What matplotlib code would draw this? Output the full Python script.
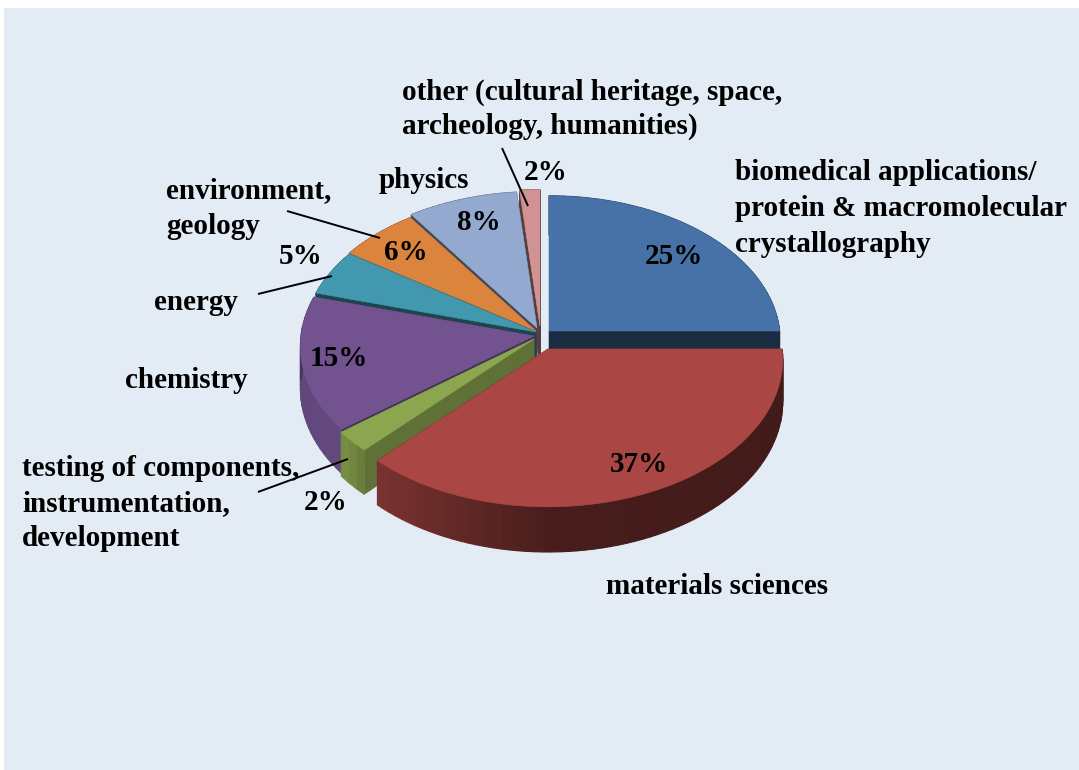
import numpy as np
from matplotlib import pyplot as plt
from matplotlib.patches import Rectangle

names = ["biomedical", "materials", "testing", "chemistry", "energy", "environment", "physics", "other"]
values = [25.1, 37.3, 2.4, 14.9, 5.0, 6.0, 8.2, 1.5]
top_colors = ["#4672A7", "#AA4643", "#8CA64F", "#725390", "#4198AF", "#DB843D", "#93A9CF", "#D09293"]
pct_xy = [(674, 257), (639, 464), (326, 503), (339, 358), (301, 256), (406, 252), (479, 223), (546, 173)]

# label lines: text, left x, centre y (pixels)
label_lines = [
    ("other (cultural heritage, space,", 402, 92),
    ("archeology, humanities)", 402, 126),
    ("biomedical applications/", 735, 172),
    ("protein & macromolecular", 735, 208),
    ("crystallography", 735, 244),
    ("physics", 379, 180),
    ("environment,", 166, 191),
    ("geology", 166, 227),
    ("energy", 154, 303),
    ("chemistry", 125, 380),
    ("testing of components,", 22, 468),
    ("instrumentation,", 22, 504),
    ("development", 22, 539),
    ("materials sciences", 606, 587),
]
leaders = [
    ((502, 148), (528, 206)),
    ((287, 211), (380, 238)),
    ((258, 294), (332, 276)),
    ((258, 492), (348, 459)),
]

# where each slice's tip sits, slice pulled apart like in the original
apex = [(549, 331), (548, 349), (534, 339), (534, 336), (536, 332), (536, 331), (537, 328), (540, 326)]
size = [0.99, 1.005, 1, 1, 1, 1, 1, 1]
cut_shade = [0.39, 0.45, 0.68, 0.62, 0.45, 0.5, 0.43, 0.42]
R, Rs, persp, depth = 233, 146, 0.07, 42


def project(ang, r, tip):
    # ang clockwise from 12 o'clock, small perspective so the front is bigger
    X, Y = r * np.sin(ang), r * np.cos(ang)
    w = 1 + persp * Y
    return tip[0] + R * X / w, tip[1] - Rs * Y / w, depth / w


def shade(col, f):
    return tuple(np.clip(np.array(plt.matplotlib.colors.to_rgb(col)) * f, 0, 1))


def rim_factor(X):
    return np.interp(X, [-1, -0.8, -0.68, 0, 1], [0.85, 0.88, 0.72, 0.42, 0.38])


plt.rcParams["font.family"] = ["Liberation Serif", "DejaVu Serif"]
fig = plt.figure(figsize=(10.79, 7.70), dpi=100, facecolor="white")
ax = fig.add_axes([0, 0, 1, 1])
ax.set_xlim(0, 1079)
ax.set_ylim(770, 0)
ax.axis("off")
ax.add_patch(Rectangle((4, 8), 1075, 762, facecolor="#E3EBF5", edgecolor="none", zorder=0))

edges = np.cumsum([0] + values) / np.sum(values) * 2 * np.pi
# painter's order, back slices first
order = [7, 6, 5, 4, 0, 3, 2, 1]
z = 1
for i in order:
    tip = apex[i]
    a0, a1 = edges[i], edges[i + 1]
    col = top_colors[i]
    # the two cut faces
    for a in (a0, a1):
        x, y, d = project(a, size[i], tip)
        ax.fill([tip[0], x, x, tip[0]], [tip[1], y, y + d, tip[1] + depth * 0.97],
                color=shade(col, cut_shade[i]), lw=0.4, zorder=z)
    z += 1
    # outer wall, small strips for the gradient
    aa = np.linspace(a0, a1, max(int((a1 - a0) * 30), 3))
    for b0, b1 in zip(aa[:-1], aa[1:]):
        x0, y0, d0 = project(b0, size[i], tip)
        x1, y1, d1 = project(b1, size[i], tip)
        mid = (b0 + b1) / 2
        # back part of the wall only peeks out in the gaps, keep it dark
        f = cut_shade[i] if np.cos(mid) > 0 else rim_factor(np.sin(mid))
        ax.fill([x0, x1, x1, x0], [y0, y1, y1 + d1, y0 + d0], color=shade(col, f), lw=0.8, zorder=z)
    z += 1
    # top face
    aa = np.linspace(a0, a1, 120)
    px, py, _ = project(aa, size[i], tip)
    ax.fill(np.r_[tip[0], px], np.r_[tip[1], py], color=col, lw=0.4, zorder=z)
    z += 1

for (x0, y0), (x1, y1) in leaders:
    ax.plot([x0, x1], [y0, y1], color="black", lw=1.4, zorder=z, solid_capstyle="butt")
z += 1

for txt, x, y in label_lines:
    ax.text(x, y, txt, fontsize=21, fontweight="bold", ha="left", va="center", color="black", zorder=z)
for v, (x, y) in zip(values, pct_xy):
    ax.text(x, y, f"{v:.0f}%", fontsize=21, fontweight="bold", ha="center", va="center", color="black", zorder=z)

fig.savefig("out.png", dpi=100)
